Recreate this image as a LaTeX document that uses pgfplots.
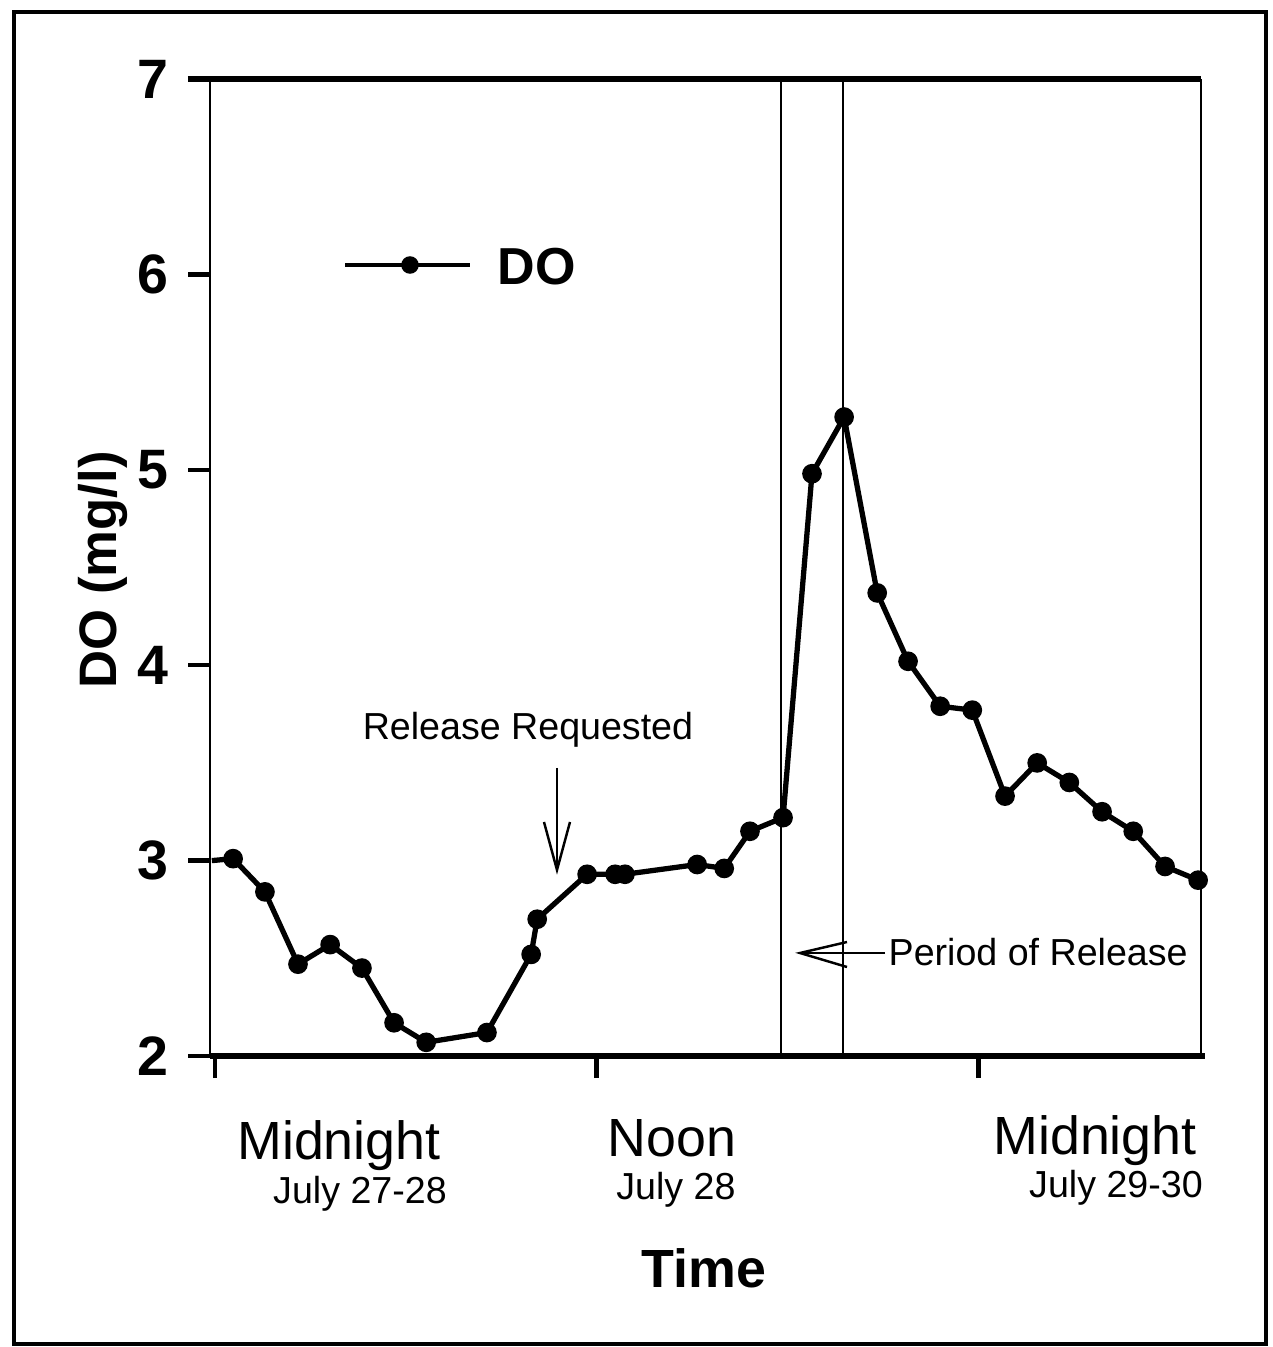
\documentclass[border=0pt]{standalone}
\usepackage{fontspec}
\setmainfont{Liberation Sans}
\usepackage{pgfplots}
\pgfplotsset{compat=1.18}
\begin{document}
\begin{tikzpicture}[x=1cm,y=1cm]
\useasboundingbox (-2.10,-2.91) rectangle (10.62,10.56);
\draw[line width=1.1pt] (-1.96,10.44) rectangle (10.56,-2.88);
\begin{axis}[at={(0,0)}, anchor=south west, scale only axis,
  width=9.91cm, height=9.77cm,
  xmin=-0.157, xmax=31.0, ymin=2, ymax=7,
  axis line style={draw=none},
  xtick={0,12,24}, xticklabels={}, ytick={2,3,4,5,6,7},
  tick align=outside, xtick pos=bottom, ytick pos=left,
  major tick length=0.22cm, tick style={line width=1.3pt, black},
  yticklabel style={font=\fontsize{15.8}{18}\selectfont\bfseries, xshift=-0.07cm},
  /pgf/number format/assume math mode=true,
  clip=false]
\draw[line width=1.5pt] (axis cs:-0.85,7) -- (axis cs:31.0,7);
\draw[line width=1.5pt] (axis cs:-0.157,2) -- (axis cs:31.13,2);
\draw[line width=0.6pt] (axis cs:-0.157,2) -- (axis cs:-0.157,7);
\draw[line width=0.6pt] (axis cs:31.0,2) -- (axis cs:31.0,7);
\draw[line width=0.6pt] (axis cs:17.80,2) -- (axis cs:17.80,7);
\draw[line width=0.6pt] (axis cs:19.75,2) -- (axis cs:19.75,7);
\addplot[black, line width=1.5pt, no marks] coordinates {
(-0.1,3.00) (0.57,3.01) (1.57,2.84) (2.61,2.47) (3.62,2.57) (4.62,2.45)
(5.63,2.17) (6.64,2.07) (8.55,2.12) (9.94,2.52) (10.13,2.70) (11.70,2.93)
(12.58,2.93) (12.89,2.93) (15.16,2.98) (16.01,2.96) (16.82,3.15) (17.86,3.22)
(18.77,4.98) (19.78,5.27) (20.82,4.37) (21.79,4.02) (22.80,3.79) (23.81,3.77)
(24.84,3.33) (25.85,3.50) (26.86,3.40) (27.89,3.25) (28.87,3.15) (29.87,2.97)
(30.91,2.90)};
\addplot[black, only marks, mark=*, mark size=2.6pt] coordinates {
(0.57,3.01) (1.57,2.84) (2.61,2.47) (3.62,2.57) (4.62,2.45)
(5.63,2.17) (6.64,2.07) (8.55,2.12) (9.94,2.52) (10.13,2.70) (11.70,2.93)
(12.58,2.93) (12.89,2.93) (15.16,2.98) (16.01,2.96) (16.82,3.15) (17.86,3.22)
(18.77,4.98) (19.78,5.27) (20.82,4.37) (21.79,4.02) (22.80,3.79) (23.81,3.77)
(24.84,3.33) (25.85,3.50) (26.86,3.40) (27.89,3.25) (28.87,3.15) (29.87,2.97)
(30.91,2.90)};
\end{axis}
% legend
\draw[line width=1.4pt] (1.35,7.91) -- (2.60,7.91);
\fill (2.00,7.91) circle (2.5pt);
\node[anchor=base west, inner sep=0pt, font=\fontsize{14.8}{17}\selectfont\bfseries] at (2.87,7.71) {DO};
% annotations
\node[anchor=base, inner sep=0pt, font=\fontsize{10.7}{13}\selectfont] at (3.18,3.16) {Release Requested};
\draw[line width=0.7pt] (3.47,2.88) -- (3.47,1.88);
\draw[line width=0.7pt] (3.34,2.34) -- (3.47,1.86) -- (3.60,2.34);
\node[anchor=base west, inner sep=0pt, font=\fontsize{10.7}{13}\selectfont] at (6.78,0.90) {Period of Release};
\draw[line width=0.7pt] (6.75,1.03) -- (5.90,1.03);
\draw[line width=0.7pt] (6.37,1.14) -- (5.90,1.03) -- (6.37,0.89);
% x labels
\node[anchor=base, inner sep=0pt, font=\fontsize{15.3}{18}\selectfont] at (1.29,-1.04) {Midnight};
\node[anchor=base, inner sep=0pt, font=\fontsize{10.7}{13}\selectfont] at (1.50,-1.47) {July 27-28};
\node[anchor=base, inner sep=0pt, font=\fontsize{15.3}{18}\selectfont] at (4.62,-1.01) {Noon};
\node[anchor=base, inner sep=0pt, font=\fontsize{10.7}{13}\selectfont] at (4.66,-1.44) {July 28};
\node[anchor=base, inner sep=0pt, font=\fontsize{15.3}{18}\selectfont] at (8.85,-0.99) {Midnight};
\node[anchor=base, inner sep=0pt, font=\fontsize{10.7}{13}\selectfont] at (9.06,-1.41) {July 29-30};
\node[anchor=base, inner sep=0pt, font=\fontsize{15.3}{18}\selectfont\bfseries] at (4.94,-2.31) {Time};
\node[anchor=base, rotate=90, inner sep=0pt, font=\fontsize{15}{17}\selectfont\bfseries] at (-0.93,4.86) {DO (mg/l)};
\end{tikzpicture}
\end{document}
